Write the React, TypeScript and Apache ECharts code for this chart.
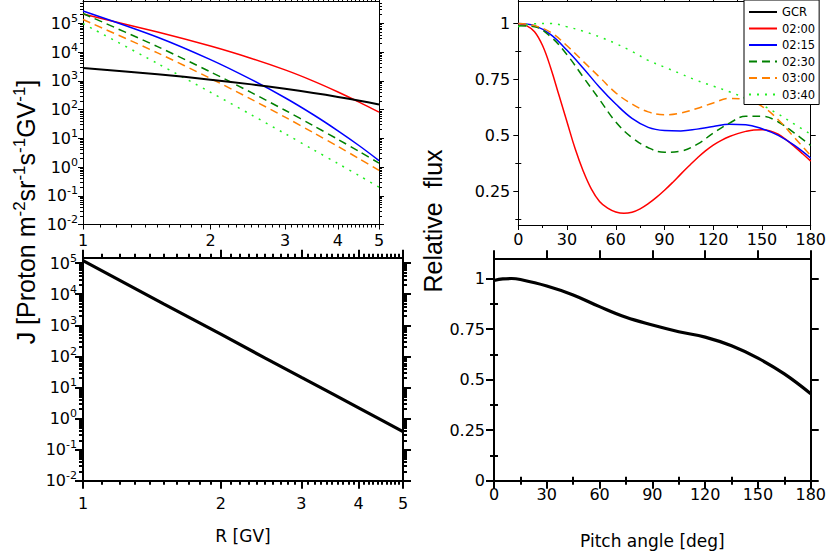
import React, { useEffect, useRef } from "react";
import * as echarts from "echarts";

// ---------- data ----------
// top-left: spectra J(R)
const rigidity = [1, 1.5, 2, 2.5, 3, 3.5, 4, 4.5, 5];
const specGCR = [2800, 1690, 1100, 753, 531, 380, 276, 203, 150];
const spec0200 = [2.1e5, 5.0e4, 1.62e4, 6000, 2400, 980, 410, 178, 81];
const spec0215 = [2.7e5, 3.3e4, 5470, 1100, 258, 66, 18.2, 5.4, 1.68];
const spec0230 = [2.2e5, 1.55e4, 2040, 388, 94.6, 27.5, 9.2, 3.4, 1.37];
const spec0300 = [1.36e5, 9400, 1210, 226, 54.6, 15.7, 5.2, 1.91, 0.76];
const spec0340 = [9.8e4, 4000, 400, 65, 14.5, 4.0, 1.32, 0.49, 0.2];

// bottom-left: single spectrum
const rigidityBL = [1, 1.5, 2, 2.5, 3, 3.5, 4, 4.5, 5];
const specBL = [1.2e5, 4900, 520, 88, 21, 6.3, 2.2, 0.87, 0.38];

// top-right: pitch angle distributions
const pitch5 = [0, 5, 10, 15, 20, 25, 30, 35, 40, 45, 50, 55, 60, 65, 70, 75, 80, 85, 90, 95, 100, 105, 110, 115, 120, 125, 130, 135, 140, 145, 150, 155, 160, 165, 170, 175, 180];
const pad0200 = [1.0, 0.99, 0.963, 0.9, 0.8, 0.68, 0.56, 0.44, 0.34, 0.26, 0.205, 0.175, 0.158, 0.152, 0.157, 0.172, 0.195, 0.223, 0.255, 0.29, 0.327, 0.363, 0.398, 0.43, 0.457, 0.478, 0.495, 0.508, 0.518, 0.524, 0.525, 0.52, 0.505, 0.48, 0.45, 0.418, 0.385];
const pitch10 = [0, 10, 20, 30, 40, 50, 60, 70, 80, 90, 100, 110, 120, 130, 140, 150, 160, 170, 180];
const pad0215 = [1.0, 0.99, 0.95, 0.88, 0.8, 0.715, 0.64, 0.576, 0.536, 0.522, 0.52, 0.528, 0.54, 0.55, 0.548, 0.53, 0.5, 0.455, 0.398];
const pad0230 = [0.99, 0.985, 0.94, 0.86, 0.76, 0.66, 0.56, 0.49, 0.445, 0.425, 0.43, 0.46, 0.51, 0.555, 0.585, 0.585, 0.56, 0.51, 0.455];
const pad0300 = [1.0, 0.99, 0.96, 0.9, 0.83, 0.76, 0.69, 0.64, 0.605, 0.592, 0.6, 0.62, 0.645, 0.665, 0.66, 0.63, 0.57, 0.49, 0.41];
const pad0340 = [0.985, 0.998, 1.0, 0.985, 0.965, 0.94, 0.91, 0.875, 0.835, 0.805, 0.775, 0.745, 0.72, 0.695, 0.665, 0.635, 0.595, 0.55, 0.505];

// bottom-right: single pitch angle distribution
const pitchBR = [0, 5, 10, 15, 30, 45, 60, 75, 90, 105, 120, 135, 150, 165, 180];
const padBR = [0.99, 0.998, 1.0, 0.995, 0.963, 0.919, 0.861, 0.808, 0.77, 0.737, 0.71, 0.667, 0.606, 0.528, 0.43];

// ticks
const rTicks = [1, 2, 3, 4, 5];
const rMinor = [1.1, 1.2, 1.3, 1.4, 1.5, 1.6, 1.7, 1.8, 1.9, 2.1, 2.2, 2.3, 2.4, 2.5, 2.6, 2.7, 2.8, 2.9, 3.1, 3.2, 3.3, 3.4, 3.5, 3.6, 3.7, 3.8, 3.9, 4.1, 4.2, 4.3, 4.4, 4.5, 4.6, 4.7, 4.8, 4.9];
const jTicks = [0.01, 0.1, 1, 10, 100, 1000, 1e4, 1e5];
const jMinorMant = [2, 3, 4, 5, 6, 7, 8, 9];
const angleTicks = [0, 30, 60, 90, 120, 150, 180];
const angleMinor = [15, 45, 75, 105, 135, 165];
const fluxTicksTR = [0.25, 0.5, 0.75, 1];
const fluxMinorTR = [0.125, 0.375, 0.625, 0.875];
const fluxTicksBR = [0, 0.25, 0.5, 0.75, 1];
const fluxMinorBR = [0.125, 0.375, 0.625, 0.875];

const legendNames = ["GCR", "02:00", "02:15", "02:30", "03:00", "03:40"];

const FONT = '"Liberation Sans", Arial, Helvetica, sans-serif';
const TICKFONT = '"DejaVu Sans", "Liberation Sans", sans-serif';

const jMinor: number[] = [];
jTicks.forEach((d) => jMinorMant.forEach((m) => jMinor.push(+(m * d).toPrecision(3))));

const powLabel = (v: number) => {
  const e = Math.round(Math.log10(v));
  return `{b|10}{s|${e}}`;
};
const powRich = {
  b: { fontSize: 16, lineHeight: 21, fontFamily: TICKFONT, color: "#000" },
  s: { fontSize: 11, lineHeight: 10, verticalAlign: "top", fontFamily: TICKFONT, color: "#000" },
};

function axisSet(o: any) {
  const positions = o.dim === "x" ? ["bottom", "top"] : ["left", "right"];
  const common: any = {
    gridIndex: o.grid,
    type: o.type,
    min: o.min,
    max: o.max,
    splitLine: { show: false },
    splitArea: { show: false },
    minorTick: { show: false },
    silent: true,
  };
  const lineStyle = { color: "#000", width: o.width };
  const res: any[] = [];
  positions.forEach((p, i) => {
    const main: any = {
      ...common,
      position: p,
      axisLine: { show: true, onZero: false, lineStyle },
      axisTick: { show: true, inside: false, length: o.majorLen, customValues: o.majors, lineStyle },
      axisLabel:
        i === 0 && o.showLabels
          ? {
              show: true,
              customValues: o.majors,
              margin: o.margin,
              formatter: o.formatter,
              rich: o.rich,
              color: "#000",
              fontSize: 16,
              fontFamily: TICKFONT,
            }
          : { show: false },
    };
    if (i === 0 && o.name) {
      main.name = o.name;
      main.nameLocation = "middle";
      main.nameGap = o.nameGap;
      main.nameTextStyle = { color: "#000", fontSize: 17, fontFamily: TICKFONT };
    }
    res.push(main);
    res.push({
      ...common,
      position: p,
      axisLine: { show: false },
      axisTick: { show: true, inside: false, length: o.minorLen, customValues: o.minors, lineStyle },
      axisLabel: { show: false },
    });
  });
  return res;
}

const COLORS: Record<string, string> = {
  GCR: "#000000",
  "02:00": "#ff0000",
  "02:15": "#0000ff",
  "02:30": "#008000",
  "03:00": "#ff8000",
  "03:40": "#22ee22",
};
const DASH: Record<string, any> = {
  GCR: "solid",
  "02:00": "solid",
  "02:15": "solid",
  "02:30": [8, 5],
  "03:00": [8, 5],
  "03:40": [2, 6],
};

function lineSeries(name: string, xs: number[], ys: number[], g: number, width: number, smooth: number | boolean) {
  return {
    name,
    type: "line",
    xAxisIndex: g * 4,
    yAxisIndex: g * 4,
    data: xs.map((x, i) => [x, ys[i]]),
    symbol: "none",
    showSymbol: false,
    smooth,
    lineStyle: { color: COLORS[name] ?? "#000", width, type: DASH[name] ?? "solid" },
    itemStyle: { color: COLORS[name] ?? "#000" },
    z: name === "GCR" ? 3 : 2,
  };
}

export default function App() {
  const ref = useRef<HTMLDivElement>(null);
  useEffect(() => {
    if (!ref.current) return;
    const chart = echarts.init(ref.current, undefined, { renderer: "svg" });

    const xAxes = [
      ...axisSet({ grid: 0, dim: "x", type: "log", min: 1, max: 5, majors: rTicks, minors: rMinor, showLabels: true, margin: 8, majorLen: 5, minorLen: 3, width: 1 }),
      ...axisSet({ grid: 1, dim: "x", type: "value", min: 0, max: 180, majors: angleTicks, minors: angleMinor, showLabels: true, margin: 6, majorLen: 5, minorLen: 3, width: 1 }),
      ...axisSet({ grid: 2, dim: "x", type: "log", min: 1, max: 5, majors: rTicks, minors: rMinor, showLabels: true, margin: 15, majorLen: 8, minorLen: 4, width: 2, name: "R [GV]", nameGap: 47 }),
      ...axisSet({ grid: 3, dim: "x", type: "value", min: 0, max: 180, majors: angleTicks, minors: angleMinor, showLabels: true, margin: 6, majorLen: 8, minorLen: 4, width: 2, name: "Pitch angle [deg]", nameGap: 52 }),
    ];
    const yAxes = [
      ...axisSet({ grid: 0, dim: "y", type: "log", min: 0.01, max: 6e5, majors: jTicks, minors: jMinor.filter((v) => v < 6e5), showLabels: true, margin: 5, formatter: powLabel, rich: powRich, majorLen: 5, minorLen: 3, width: 1 }),
      ...axisSet({ grid: 1, dim: "y", type: "value", min: 0.1, max: 1.1, majors: fluxTicksTR, minors: fluxMinorTR, showLabels: true, margin: 8, majorLen: 5, minorLen: 3, width: 1 }),
      ...axisSet({ grid: 2, dim: "y", type: "log", min: 0.01, max: 1.5e5, majors: jTicks, minors: jMinor.filter((v) => v < 1.5e5), showLabels: true, margin: 6, formatter: powLabel, rich: powRich, majorLen: 8, minorLen: 4, width: 2 }),
      ...axisSet({ grid: 3, dim: "y", type: "value", min: 0, max: 1.1, majors: fluxTicksBR, minors: fluxMinorBR, showLabels: true, margin: 9, majorLen: 8, minorLen: 4, width: 2 }),
    ];

    const series: any[] = [
      lineSeries("GCR", rigidity, specGCR, 0, 2, 0.3),
      lineSeries("02:00", rigidity, spec0200, 0, 1.5, 0.3),
      lineSeries("02:15", rigidity, spec0215, 0, 1.5, 0.3),
      lineSeries("02:30", rigidity, spec0230, 0, 1.5, 0.3),
      lineSeries("03:00", rigidity, spec0300, 0, 1.5, 0.3),
      lineSeries("03:40", rigidity, spec0340, 0, 1.5, 0.3),
      lineSeries("02:00", pitch5, pad0200, 1, 1.5, 0.4),
      lineSeries("02:15", pitch10, pad0215, 1, 1.5, 0.4),
      lineSeries("02:30", pitch10, pad0230, 1, 1.5, 0.4),
      lineSeries("03:00", pitch10, pad0300, 1, 1.5, 0.4),
      lineSeries("03:40", pitch10, pad0340, 1, 1.5, 0.4),
      { ...lineSeries("J", rigidityBL, specBL, 2, 3.2, false), name: "bl" },
      { ...lineSeries("F", pitchBR, padBR, 3, 3.2, 0.4), name: "br" },
    ];

    const option: any = {
      animation: false,
      backgroundColor: "#fff",
      textStyle: { fontFamily: FONT },
      grid: [
        { left: 83, top: 1, width: 296, height: 223.5 },
        { left: 518.3, top: 1, width: 296, height: 224 },
        { left: 83, top: 257.7, width: 320, height: 223 },
        { left: 494, top: 258.3, width: 320, height: 222.4 },
      ],
      xAxis: xAxes,
      yAxis: yAxes,
      legend: {
        data: legendNames,
        orient: "vertical",
        left: 744,
        top: 0,
        itemWidth: 28,
        itemHeight: 10,
        itemGap: 4.5,
        padding: [6, 4, 4, 4],
        borderColor: "#000",
        borderWidth: 1,
        backgroundColor: "#fff",
        selectedMode: false,
        itemStyle: { opacity: 0, borderWidth: 0 },
        textStyle: { fontSize: 11.5, color: "#000", fontFamily: TICKFONT },
      },
      graphic: [
        {
          type: "text",
          x: 26,
          y: 212,
          rotation: Math.PI / 2,
          style: {
            text: "{n|J [Proton m}{s|-2}{n|sr}{s|-1}{n|s}{s|-1}{n|GV}{s|-1}{n|]}",
            align: "center",
            verticalAlign: "middle",
            rich: {
              n: { fontSize: 25, lineHeight: 30, fontFamily: FONT, fill: "#000" },
              s: { fontSize: 17, lineHeight: 14, verticalAlign: "top", fontFamily: FONT, fill: "#000" },
            },
          },
        },
        {
          type: "text",
          x: 433,
          y: 221,
          rotation: Math.PI / 2,
          style: {
            text: "Relative  flux",
            align: "center",
            verticalAlign: "middle",
            fontSize: 25,
            fontFamily: FONT,
            fill: "#000",
          },
        },
      ],
      series,
    };
    chart.setOption(option);
    return () => chart.dispose();
  }, []);
  return (
    <div
      ref={ref}
      style={{ position: "absolute", left: 0, top: 0, width: 829, height: 560, background: "#fff" }}
    />
  );
}
